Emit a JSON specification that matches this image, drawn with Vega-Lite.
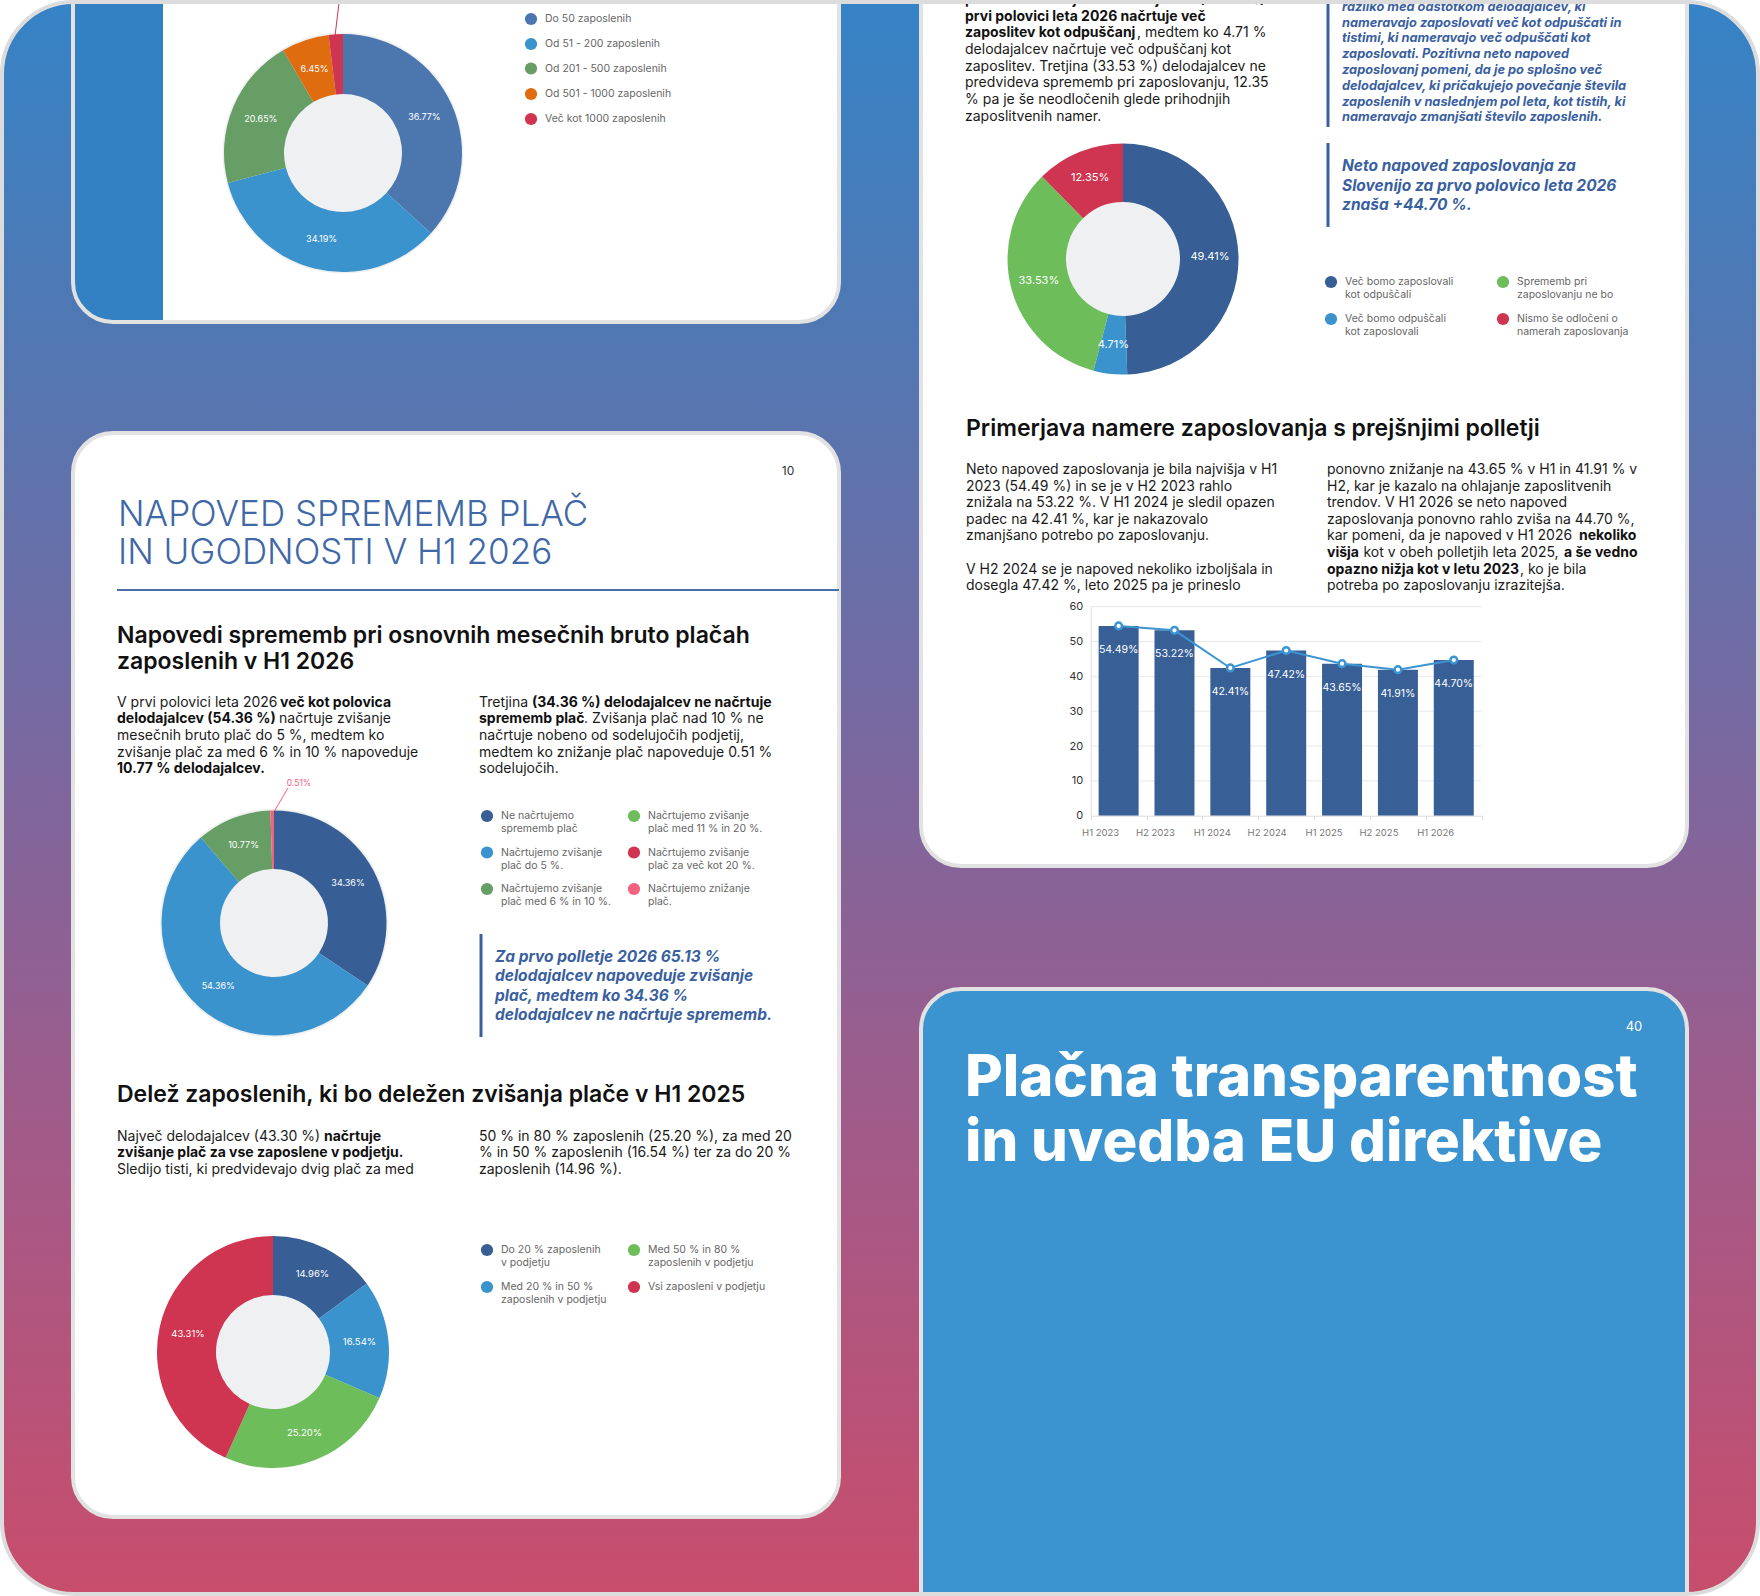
{
"$schema":"https://vega.github.io/schema/vega-lite/v6.json",
"width":1760,"height":1596,"autosize":{"type":"none"},"padding":0,"background":"#ffffff",
"config":{"view":{"stroke":null},"font":"Inter"},
"datasets":{
"frame":[{"x":2,"x2":1758,"y":2,"y2":1594}],
"cards":[{"k":"w","x":73,"x2":839,"y":-60,"y2":322},{"k":"w","x":921,"x2":1687,"y":-60,"y2":866},{"k":"w","x":73,"x2":839,"y":433,"y2":1517},{"k":"b","x":921,"x2":1687,"y":989,"y2":1660}],
"strip":[{"x":73,"x2":163,"y":-60,"y2":322}],
"donutPos":[{"d":1,"x":343,"y":153},{"d":2,"x":1123,"y":259},{"d":3,"x":274,"y":923},{"d":4,"x":273,"y":1352}],
"slices":[
{"d":1,"i":0,"cat":"Do 50 zaposlenih","share":0.3677},{"d":1,"i":1,"cat":"Od 51 - 200 zaposlenih","share":0.3419},{"d":1,"i":2,"cat":"Od 201 - 500 zaposlenih","share":0.2065},{"d":1,"i":3,"cat":"Od 501 - 1000 zaposlenih","share":0.0645},{"d":1,"i":4,"cat":"Več kot 1000 zaposlenih","share":0.0194},
{"d":2,"i":0,"cat":"Več bomo zaposlovali kot odpuščali","share":0.4941},{"d":2,"i":1,"cat":"Več bomo odpuščali kot zaposlovali","share":0.0471},{"d":2,"i":2,"cat":"Sprememb pri zaposlovanju ne bo","share":0.3353},{"d":2,"i":3,"cat":"Nismo še odločeni o namerah zaposlovanja","share":0.1235},
{"d":3,"i":0,"cat":"Ne načrtujemo sprememb plač","share":0.3436},{"d":3,"i":1,"cat":"Načrtujemo zvišanje plač do 5 %.","share":0.5436},{"d":3,"i":2,"cat":"Načrtujemo zvišanje plač med 6 % in 10 %.","share":0.1077},{"d":3,"i":3,"cat":"Načrtujemo znižanje plač.","share":0.0051},
{"d":4,"i":0,"cat":"Do 20 % zaposlenih v podjetju","share":0.1496},{"d":4,"i":1,"cat":"Med 20 % in 50 % zaposlenih v podjetju","share":0.1654},{"d":4,"i":2,"cat":"Med 50 % in 80 % zaposlenih v podjetju","share":0.2520},{"d":4,"i":3,"cat":"Vsi zaposleni v podjetju","share":0.4331}],
"legend":[
{"x":531,"y":19,"cat":"Do 50 zaposlenih","t1":"Do 50 zaposlenih","t2":""},
{"x":531,"y":44,"cat":"Od 51 - 200 zaposlenih","t1":"Od 51 - 200 zaposlenih","t2":""},
{"x":531,"y":68.5,"cat":"Od 201 - 500 zaposlenih","t1":"Od 201 - 500 zaposlenih","t2":""},
{"x":531,"y":94,"cat":"Od 501 - 1000 zaposlenih","t1":"Od 501 - 1000 zaposlenih","t2":""},
{"x":531,"y":119,"cat":"Več kot 1000 zaposlenih","t1":"Več kot 1000 zaposlenih","t2":""},
{"x":1331,"y":282,"cat":"Več bomo zaposlovali kot odpuščali","t1":"Več bomo zaposlovali","t2":"kot odpuščali"},
{"x":1503,"y":282,"cat":"Sprememb pri zaposlovanju ne bo","t1":"Sprememb pri","t2":"zaposlovanju ne bo"},
{"x":1331,"y":319,"cat":"Več bomo odpuščali kot zaposlovali","t1":"Več bomo odpuščali","t2":"kot zaposlovali"},
{"x":1503,"y":319,"cat":"Nismo še odločeni o namerah zaposlovanja","t1":"Nismo še odločeni o","t2":"namerah zaposlovanja"},
{"x":487,"y":816,"cat":"Ne načrtujemo sprememb plač","t1":"Ne načrtujemo","t2":"sprememb plač"},
{"x":634,"y":816,"cat":"Načrtujemo zvišanje plač med 11 % in 20 %.","t1":"Načrtujemo zvišanje","t2":"plač med 11 % in 20 %."},
{"x":487,"y":852.5,"cat":"Načrtujemo zvišanje plač do 5 %.","t1":"Načrtujemo zvišanje","t2":"plač do 5 %."},
{"x":634,"y":852.5,"cat":"Načrtujemo zvišanje plač za več kot 20 %.","t1":"Načrtujemo zvišanje","t2":"plač za več kot 20 %."},
{"x":487,"y":889,"cat":"Načrtujemo zvišanje plač med 6 % in 10 %.","t1":"Načrtujemo zvišanje","t2":"plač med 6 % in 10 %."},
{"x":634,"y":889,"cat":"Načrtujemo znižanje plač.","t1":"Načrtujemo znižanje","t2":"plač."},
{"x":487,"y":1250,"cat":"Do 20 % zaposlenih v podjetju","t1":"Do 20 % zaposlenih","t2":"v podjetju"},
{"x":634,"y":1250,"cat":"Med 50 % in 80 % zaposlenih v podjetju","t1":"Med 50 % in 80 %","t2":"zaposlenih v podjetju"},
{"x":487,"y":1287,"cat":"Med 20 % in 50 % zaposlenih v podjetju","t1":"Med 20 % in 50 %","t2":"zaposlenih v podjetju"},
{"x":634,"y":1287,"cat":"Vsi zaposleni v podjetju","t1":"Vsi zaposleni v podjetju","t2":""}],
"leaders":[{"x":335,"y":36,"x2":340,"y2":-5,"cat":"Več kot 1000 zaposlenih"},{"x":274.5,"y":811,"x2":288,"y2":788,"cat":"Načrtujemo znižanje plač."}],
"quoteBars":[{"x":1328,"y":-5,"x2":1328,"y2":127},{"x":1328,"y":143,"x2":1328,"y2":227},{"x":481,"y":934,"x2":481,"y2":1037}],
"underline":[{"x":117,"y":590,"x2":839,"y2":590}],
"tBody":[
{"x":1137,"y":33.3,"t":", medtem ko 4.71 %"},
{"x":965,"y":50,"t":"delodajalcev načrtuje več odpuščanj kot"},
{"x":965,"y":66.7,"t":"zaposlitev. Tretjina (33.53 %) delodajalcev ne"},
{"x":965,"y":83.3,"t":"predvideva sprememb pri zaposlovanju, 12.35"},
{"x":965,"y":100,"t":"% pa je še neodločenih glede prihodnjih"},
{"x":965,"y":116.7,"t":"zaposlitvenih namer."},
{"x":966,"y":470,"t":"Neto napoved zaposlovanja je bila najvišja v H1"},
{"x":966,"y":486.6,"t":"2023 (54.49 %) in se je v H2 2023 rahlo"},
{"x":966,"y":503.2,"t":"znižala na 53.22 %. V H1 2024 je sledil opazen"},
{"x":966,"y":519.8,"t":"padec na 42.41 %, kar je nakazovalo"},
{"x":966,"y":536.4,"t":"zmanjšano potrebo po zaposlovanju."},
{"x":966,"y":569.6,"t":"V H2 2024 se je napoved nekoliko izboljšala in"},
{"x":966,"y":586.2,"t":"dosegla 47.42 %, leto 2025 pa je prineslo"},
{"x":1327,"y":470,"t":"ponovno znižanje na 43.65 % v H1 in 41.91 % v"},
{"x":1327,"y":486.6,"t":"H2, kar je kazalo na ohlajanje zaposlitvenih"},
{"x":1327,"y":503.2,"t":"trendov. V H1 2026 se neto napoved"},
{"x":1327,"y":519.8,"t":"zaposlovanja ponovno rahlo zviša na 44.70 %,"},
{"x":1327,"y":536.4,"t":"kar pomeni, da je napoved v H1 2026"},
{"x":1363.5,"y":553,"t":"kot v obeh polletjih leta 2025,"},
{"x":1520,"y":569.6,"t":", ko je bila"},
{"x":1327,"y":586.2,"t":"potreba po zaposlovanju izrazitejša."},
{"x":117,"y":702.7,"t":"V prvi polovici leta 2026"},
{"x":279,"y":719.3,"t":"načrtuje zvišanje"},
{"x":117,"y":736,"t":"mesečnih bruto plač do 5 %, medtem ko"},
{"x":117,"y":752.7,"t":"zvišanje plač za med 6 % in 10 % napoveduje"},
{"x":479,"y":702.7,"t":"Tretjina"},
{"x":584,"y":719.3,"t":". Zvišanja plač nad 10 % ne"},
{"x":479,"y":736,"t":"načrtuje nobeno od sodelujočih podjetij,"},
{"x":479,"y":752.7,"t":"medtem ko znižanje plač napoveduje 0.51 %"},
{"x":479,"y":769.3,"t":"sodelujočih."},
{"x":117,"y":1137,"t":"Največ delodajalcev (43.30 %)"},
{"x":117,"y":1169.5,"t":"Sledijo tisti, ki predvidevajo dvig plač za med"},
{"x":479,"y":1137,"t":"50 % in 80 % zaposlenih (25.20 %), za med 20"},
{"x":479,"y":1153.3,"t":"% in 50 % zaposlenih (16.54 %) ter za do 20 %"},
{"x":479,"y":1169.5,"t":"zaposlenih (14.96 %)."}],
"tBold":[
{"x":965,"y":0,"t":"polovica sodelujočih delodajalcev (49.41 %) v"},
{"x":965,"y":16.7,"t":"prvi polovici leta 2026 načrtuje več"},
{"x":965,"y":33.3,"t":"zaposlitev kot odpuščanj"},
{"x":1579,"y":536.4,"t":"nekoliko"},
{"x":1327,"y":553,"t":"višja"},
{"x":1564,"y":553,"t":"a še vedno"},
{"x":1327,"y":569.6,"t":"opazno nižja kot v letu 2023"},
{"x":280,"y":702.7,"t":"več kot polovica"},
{"x":117,"y":719.3,"t":"delodajalcev (54.36 %)"},
{"x":117,"y":769.3,"t":"10.77 % delodajalcev."},
{"x":532,"y":702.7,"t":"(34.36 %) delodajalcev ne načrtuje"},
{"x":479,"y":719.3,"t":"sprememb plač"},
{"x":324,"y":1137,"t":"načrtuje"},
{"x":117,"y":1153.3,"t":"zvišanje plač za vse zaposlene v podjetju."}],
"tQuote":[
{"x":1342,"y":6.7,"t":"razliko med odstotkom delodajalcev, ki"},
{"x":1342,"y":22.7,"t":"nameravajo zaposlovati več kot odpuščati in"},
{"x":1342,"y":38.3,"t":"tistimi, ki nameravajo več odpuščati kot"},
{"x":1342,"y":54.3,"t":"zaposlovati. Pozitivna neto napoved"},
{"x":1342,"y":70,"t":"zaposlovanj pomeni, da je po splošno več"},
{"x":1342,"y":86,"t":"delodajalcev, ki pričakujejo povečanje števila"},
{"x":1342,"y":101.7,"t":"zaposlenih v naslednjem pol leta, kot tistih, ki"},
{"x":1342,"y":117.3,"t":"nameravajo zmanjšati število zaposlenih."}],
"tQuoteBig":[
{"x":1342,"y":165.5,"t":"Neto napoved zaposlovanja za"},
{"x":1342,"y":185.5,"t":"Slovenijo za prvo polovico leta 2026"},
{"x":1342,"y":205,"t":"znaša +44.70 %."},
{"x":495,"y":956.5,"t":"Za prvo polletje 2026 65.13 %"},
{"x":495,"y":976,"t":"delodajalcev napoveduje zvišanje"},
{"x":495,"y":995.5,"t":"plač, medtem ko 34.36 %"},
{"x":495,"y":1015,"t":"delodajalcev ne načrtuje sprememb."}],
"tHead":[
{"x":966,"y":429,"t":"Primerjava namere zaposlovanja s prejšnjimi polletji"},
{"x":117,"y":636,"t":"Napovedi sprememb pri osnovnih mesečnih bruto plačah"},
{"x":117,"y":662,"t":"zaposlenih v H1 2026"},
{"x":117,"y":1094.5,"t":"Delež zaposlenih, ki bo deležen zvišanja plače v H1 2025"}],
"tTitle":[{"x":118,"y":514.5,"t":"NAPOVED SPREMEMB PLAČ"},{"x":118,"y":552.5,"t":"IN UGODNOSTI V H1 2026"}],
"tHero":[{"x":965,"y":1079,"t":"Plačna transparentnost"},{"x":965,"y":1144,"t":"in uvedba EU direktive"}],
"tNumDark":[{"x":788,"y":471,"t":"10"}],
"tNumWhite":[{"x":1634,"y":1027,"t":"40"}],
"bars":[{"period":"H1 2023","v":0.5449},{"period":"H2 2023","v":0.5322},{"period":"H1 2024","v":0.4241},{"period":"H2 2024","v":0.4742},{"period":"H1 2025","v":0.4365},{"period":"H2 2025","v":0.4191},{"period":"H1 2026","v":0.4470}],
"grid":[{"tick":0.1},{"tick":0.2},{"tick":0.3},{"tick":0.4},{"tick":0.5},{"tick":0.6}]
},
"resolve":{"scale":{"x":"independent","y":"independent"}},
"layer":[
{
"encoding":{
"x":{"field":"x","type":"quantitative","scale":{"domain":[0,1760],"range":[0,1760],"nice":false,"zero":false},"axis":null},
"y":{"field":"y","type":"quantitative","scale":{"domain":[0,1596],"range":[0,1596],"nice":false,"zero":false},"axis":null}},
"layer":[
{"data":{"name":"frame"},"mark":{"type":"rect","cornerRadius":72,"fill":{"gradient":"linear","x1":0,"y1":0,"x2":0,"y2":1,"stops":[{"offset":0,"color":"#3583c6"},{"offset":0.2,"color":"#4f78b3"},{"offset":0.45,"color":"#7669a1"},{"offset":0.72,"color":"#a35a88"},{"offset":1,"color":"#c84d6c"}]}},"encoding":{"x2":{"field":"x2"},"y2":{"field":"y2"}}},
{"data":{"name":"cards"},"mark":{"type":"rect","cornerRadius":40,"fill":"#1b1b3a","opacity":0.06,"yOffset":12},"encoding":{"x2":{"field":"x2"},"y2":{"field":"y2"}}},
{"data":{"name":"cards"},"mark":{"type":"rect","cornerRadius":40,"fill":"#1b1b3a","opacity":0.08,"yOffset":5},"encoding":{"x2":{"field":"x2"},"y2":{"field":"y2"}}},
{"data":{"name":"cards"},"transform":[{"filter":"datum.k=='w'"}],"mark":{"type":"rect","cornerRadius":40,"fill":"#ffffff"},"encoding":{"x2":{"field":"x2"},"y2":{"field":"y2"}}},
{"data":{"name":"cards"},"transform":[{"filter":"datum.k=='b'"}],"mark":{"type":"rect","cornerRadius":40,"fill":"#3b93cf"},"encoding":{"x2":{"field":"x2"},"y2":{"field":"y2"}}},
{"data":{"name":"strip"},"mark":{"type":"rect","cornerRadiusBottomLeft":40,"fill":"#3381c2"},"encoding":{"x2":{"field":"x2"},"y2":{"field":"y2"}}},
{"data":{"name":"cards"},"mark":{"type":"rect","cornerRadius":40,"fillOpacity":0,"stroke":"#e2e2e2","strokeWidth":4},"encoding":{"x2":{"field":"x2"},"y2":{"field":"y2"}}},
{"data":{"name":"donutPos"},"transform":[{"filter":"datum.d==1"}],"mark":{"type":"circle","size":58107,"color":"#eff0f2","opacity":1}},
{"data":{"name":"donutPos"},"transform":[{"filter":"datum.d!=1"}],"mark":{"type":"circle","size":52279,"color":"#eff0f2","opacity":1}},
{"encoding":{"color":{"field":"cat","type":"nominal","legend":null,"scale":{
"domain":["Do 50 zaposlenih","Od 51 - 200 zaposlenih","Od 201 - 500 zaposlenih","Od 501 - 1000 zaposlenih","Več kot 1000 zaposlenih","Več bomo zaposlovali kot odpuščali","Več bomo odpuščali kot zaposlovali","Sprememb pri zaposlovanju ne bo","Nismo še odločeni o namerah zaposlovanja","Ne načrtujemo sprememb plač","Načrtujemo zvišanje plač do 5 %.","Načrtujemo zvišanje plač med 6 % in 10 %.","Načrtujemo zvišanje plač med 11 % in 20 %.","Načrtujemo zvišanje plač za več kot 20 %.","Načrtujemo znižanje plač.","Do 20 % zaposlenih v podjetju","Med 20 % in 50 % zaposlenih v podjetju","Med 50 % in 80 % zaposlenih v podjetju","Vsi zaposleni v podjetju"],
"range":["#4b77ae","#3a93cd","#669e65","#e06c10","#cf3550","#375f96","#3a93cd","#6dbd5b","#cf3550","#375f96","#3a93cd","#669e65","#6dbd5b","#cf3550","#f4617f","#375f96","#3a93cd","#6dbd5b","#cf3550"]}}},
"layer":[
{"data":{"name":"slices"},"transform":[{"filter":"datum.d==1"},{"lookup":"d","from":{"data":{"name":"donutPos"},"key":"d","fields":["x","y"]}}],"mark":{"type":"arc","radius":119,"radius2":59},"encoding":{"theta":{"field":"share","type":"quantitative","stack":true,"scale":{"domain":[0,1]}},"order":{"field":"i","type":"quantitative"}}},
{"data":{"name":"slices"},"transform":[{"filter":"datum.d==2"},{"lookup":"d","from":{"data":{"name":"donutPos"},"key":"d","fields":["x","y"]}}],"mark":{"type":"arc","radius":115.5,"radius2":57},"encoding":{"theta":{"field":"share","type":"quantitative","stack":true,"scale":{"domain":[0,1]}},"order":{"field":"i","type":"quantitative"}}},
{"data":{"name":"slices"},"transform":[{"filter":"datum.d==3"},{"lookup":"d","from":{"data":{"name":"donutPos"},"key":"d","fields":["x","y"]}}],"mark":{"type":"arc","radius":112.5,"radius2":54},"encoding":{"theta":{"field":"share","type":"quantitative","stack":true,"scale":{"domain":[0,1]}},"order":{"field":"i","type":"quantitative"}}},
{"data":{"name":"slices"},"transform":[{"filter":"datum.d==4"},{"lookup":"d","from":{"data":{"name":"donutPos"},"key":"d","fields":["x","y"]}}],"mark":{"type":"arc","radius":116,"radius2":57},"encoding":{"theta":{"field":"share","type":"quantitative","stack":true,"scale":{"domain":[0,1]}},"order":{"field":"i","type":"quantitative"}}},
{"data":{"name":"legend"},"mark":{"type":"circle","size":150,"opacity":1}},
{"data":{"name":"leaders"},"mark":{"type":"rule","strokeWidth":1},"encoding":{"x2":{"field":"x2"},"y2":{"field":"y2"}}}
]},
{"data":{"name":"slices"},"transform":[{"filter":"datum.d==1"},{"lookup":"d","from":{"data":{"name":"donutPos"},"key":"d","fields":["x","y"]}}],"mark":{"type":"text","radius":89,"fontSize":9,"fill":"#ffffff","align":"center","baseline":"middle"},"encoding":{"theta":{"field":"share","type":"quantitative","stack":true,"scale":{"domain":[0,1]}},"order":{"field":"i","type":"quantitative"},"text":{"field":"share","format":".2%"},"opacity":{"condition":{"test":"datum.share<0.03","value":0},"value":1}}},
{"data":{"name":"slices"},"transform":[{"filter":"datum.d==2"},{"lookup":"d","from":{"data":{"name":"donutPos"},"key":"d","fields":["x","y"]}}],"mark":{"type":"text","radius":87,"fontSize":11,"fill":"#ffffff","align":"center","baseline":"middle"},"encoding":{"theta":{"field":"share","type":"quantitative","stack":true,"scale":{"domain":[0,1]}},"order":{"field":"i","type":"quantitative"},"text":{"field":"share","format":".2%"},"opacity":{"condition":{"test":"datum.share<0.03","value":0},"value":1}}},
{"data":{"name":"slices"},"transform":[{"filter":"datum.d==3"},{"lookup":"d","from":{"data":{"name":"donutPos"},"key":"d","fields":["x","y"]}}],"mark":{"type":"text","radius":84,"fontSize":9,"fill":"#ffffff","align":"center","baseline":"middle"},"encoding":{"theta":{"field":"share","type":"quantitative","stack":true,"scale":{"domain":[0,1]}},"order":{"field":"i","type":"quantitative"},"text":{"field":"share","format":".2%"},"opacity":{"condition":{"test":"datum.share<0.03","value":0},"value":1}}},
{"data":{"name":"slices"},"transform":[{"filter":"datum.d==3"},{"lookup":"d","from":{"data":{"name":"donutPos"},"key":"d","fields":["x","y"]}}],"mark":{"type":"text","radius":140,"fontSize":8.5,"fill":"#f4617f","align":"left","baseline":"middle","dx":15},"encoding":{"theta":{"field":"share","type":"quantitative","stack":true,"scale":{"domain":[0,1]}},"order":{"field":"i","type":"quantitative"},"text":{"field":"share","format":".2%"},"opacity":{"condition":{"test":"datum.share<0.01","value":1},"value":0}}},
{"data":{"name":"slices"},"transform":[{"filter":"datum.d==4"},{"lookup":"d","from":{"data":{"name":"donutPos"},"key":"d","fields":["x","y"]}}],"mark":{"type":"text","radius":87,"fontSize":9.5,"fill":"#ffffff","align":"center","baseline":"middle"},"encoding":{"theta":{"field":"share","type":"quantitative","stack":true,"scale":{"domain":[0,1]}},"order":{"field":"i","type":"quantitative"},"text":{"field":"share","format":".2%"},"opacity":{"condition":{"test":"datum.share<0.03","value":0},"value":1}}},
{"data":{"name":"legend"},"mark":{"type":"text","align":"left","baseline":"middle","dx":14,"fontSize":10.5,"fill":"#666666"},"encoding":{"text":{"field":"t1"}}},
{"data":{"name":"legend"},"mark":{"type":"text","align":"left","baseline":"middle","dx":14,"dy":13,"fontSize":10.5,"fill":"#666666"},"encoding":{"text":{"field":"t2"}}},
{"data":{"name":"quoteBars"},"mark":{"type":"rule","color":"#3a5f9f","strokeWidth":3},"encoding":{"x2":{"field":"x2"},"y2":{"field":"y2"}}},
{"data":{"name":"underline"},"mark":{"type":"rule","color":"#4a6fa8","strokeWidth":2},"encoding":{"x2":{"field":"x2"},"y2":{"field":"y2"}}},
{"data":{"name":"tBody"},"mark":{"type":"text","align":"left","baseline":"middle","fontSize":14,"fill":"#1a1a1a"},"encoding":{"text":{"field":"t"}}},
{"data":{"name":"tBold"},"mark":{"type":"text","align":"left","baseline":"middle","fontSize":14,"fontWeight":"bold","fill":"#111111"},"encoding":{"text":{"field":"t"}}},
{"data":{"name":"tQuote"},"mark":{"type":"text","align":"left","baseline":"middle","fontSize":12.8,"fontWeight":"bold","fontStyle":"italic","fill":"#3a5f9f"},"encoding":{"text":{"field":"t"}}},
{"data":{"name":"tQuoteBig"},"mark":{"type":"text","align":"left","baseline":"middle","fontSize":15.5,"fontWeight":"bold","fontStyle":"italic","fill":"#3a5f9f"},"encoding":{"text":{"field":"t"}}},
{"data":{"name":"tHead"},"mark":{"type":"text","align":"left","baseline":"middle","fontSize":23,"fontWeight":600,"fill":"#111111"},"encoding":{"text":{"field":"t"}}},
{"data":{"name":"tTitle"},"mark":{"type":"text","align":"left","baseline":"middle","fontSize":35,"fontWeight":300,"fill":"#3f68a6"},"encoding":{"text":{"field":"t"}}},
{"data":{"name":"tHero"},"mark":{"type":"text","align":"left","baseline":"middle","fontSize":58,"fontWeight":800,"fill":"#ffffff"},"encoding":{"text":{"field":"t"}}},
{"data":{"name":"tNumDark"},"mark":{"type":"text","align":"center","baseline":"middle","fontSize":12,"fill":"#333333"},"encoding":{"text":{"field":"t"}}},
{"data":{"name":"tNumWhite"},"mark":{"type":"text","align":"center","baseline":"middle","fontSize":13,"fill":"#ffffff"},"encoding":{"text":{"field":"t"}}},
{"data":{"name":"frame"},"mark":{"type":"rect","cornerRadius":72,"fillOpacity":0,"stroke":"#dcdcdc","strokeWidth":4},"encoding":{"x2":{"field":"x2"},"y2":{"field":"y2"}}}
]
},
{
"layer":[
{"data":{"name":"grid"},"mark":{"type":"rule","color":"#e8e8e8","strokeWidth":1},
"encoding":{
"x":{"datum":"H1 2023","bandPosition":0,"type":"nominal","scale":{"domain":["H1 2023","H2 2023","H1 2024","H2 2024","H1 2025","H2 2025","H1 2026"],"range":[1090.7,1481.7],"paddingInner":0,"paddingOuter":0}},
"x2":{"datum":"H1 2026","bandPosition":1},
"y":{"field":"tick","type":"quantitative","scale":{"domain":[0,0.6],"range":[815.7,606.7],"nice":false,"zero":true}}}},
{"data":{"name":"bars"},"mark":{"type":"bar","width":{"band":0.716},"color":"#385f96"},
"encoding":{
"x":{"field":"period","type":"nominal","sort":null,"scale":{"domain":["H1 2023","H2 2023","H1 2024","H2 2024","H1 2025","H2 2025","H1 2026"],"range":[1090.7,1481.7],"paddingInner":0,"paddingOuter":0},
"axis":{"orient":"bottom","offset":-780.3,"title":null,"labelAngle":0,"tickBand":"extent","tickSize":4,"tickColor":"#dddddd","domainColor":"#dddddd","labelColor":"#777777","labelFontSize":9.5,"labelPadding":13,"grid":false,"zindex":1}},
"y":{"field":"v","type":"quantitative","scale":{"domain":[0,0.6],"range":[815.7,606.7],"nice":false,"zero":true},
"axis":{"orient":"left","offset":-1090.7,"title":null,"values":[0,0.1,0.2,0.3,0.4,0.5,0.6],"labelExpr":"round(datum.value*100)","grid":false,"ticks":false,"domainColor":"#dddddd","labelColor":"#333333","labelFontSize":11,"labelPadding":8,"zindex":1}}}},
{"data":{"name":"bars"},"mark":{"type":"line","color":"#3b95d3","strokeWidth":2},
"encoding":{"x":{"field":"period","type":"nominal","sort":null},"y":{"field":"v","type":"quantitative"}}},
{"data":{"name":"bars"},"mark":{"type":"point","filled":true,"fill":"#ffffff","stroke":"#3b95d3","strokeWidth":2.5,"size":45,"opacity":1},
"encoding":{"x":{"field":"period","type":"nominal","sort":null},"y":{"field":"v","type":"quantitative"}}},
{"data":{"name":"bars"},"mark":{"type":"text","fill":"#ffffff","fontSize":10.5,"dy":24,"align":"center","baseline":"middle"},
"encoding":{"x":{"field":"period","type":"nominal","sort":null},"y":{"field":"v","type":"quantitative"},"text":{"field":"v","format":".2%"}}}
]
}
]
}
